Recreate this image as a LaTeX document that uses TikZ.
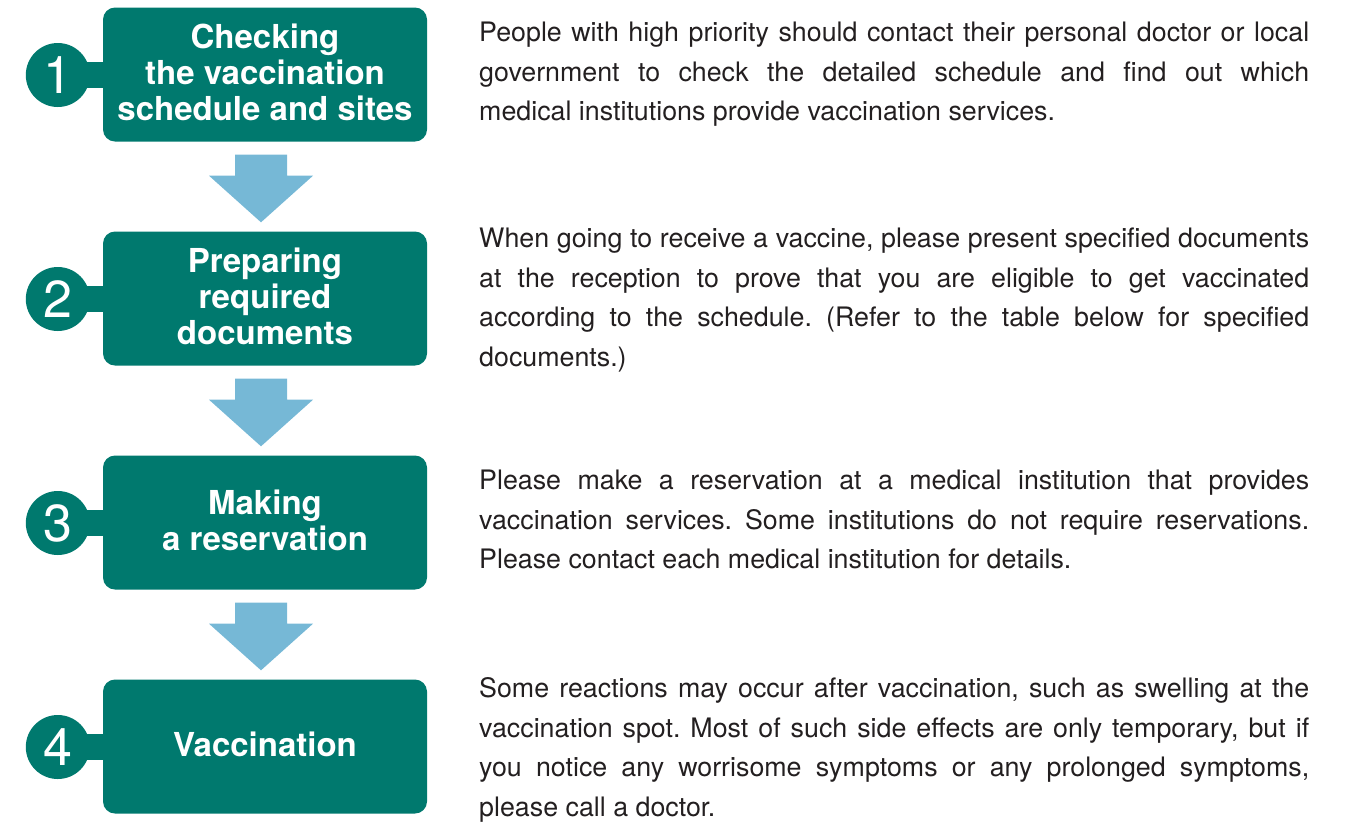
\documentclass[tikz,border=0pt]{standalone}
\usepackage{fontspec}
\setmainfont{TeX Gyre Heros}
\usetikzlibrary{calc}
\definecolor{stepgreen}{HTML}{00796E}
\definecolor{arrowblue}{HTML}{76B8D6}
\definecolor{bodytext}{HTML}{231F20}
\frenchspacing
\hyphenpenalty=10000
\exhyphenpenalty=10000
\begin{document}
\begin{tikzpicture}[x=1pt,y=-1pt,
  stepbox/.style={rectangle, rounded corners=12pt, fill=stepgreen, minimum width=324pt, minimum height=134pt, text=white, font=\bfseries\fontsize{33}{36}\selectfont, align=center, inner sep=0pt, text depth=4pt},
  numdot/.style={circle, fill=stepgreen, minimum size=64pt, inner sep=0pt, text=white, font=\fontsize{52}{52}\selectfont},
  desc/.style={anchor=base west, text width=830pt, align=justify, inner sep=0pt, text=bodytext, font=\fontsize{26.8}{39.5}\selectfont},
  blockarrow/.style={fill=arrowblue},
  linkbar/.style={fill=stepgreen}]
\useasboundingbox (0,0) rectangle (1348,823);

% boxes
\node[stepbox] (b1) at (265,74.5) {Checking\\the vaccination\\schedule and sites};
\node[stepbox] (b2) at (265,298.5) {Preparing\\required\\documents};
\node[stepbox] (b3) at (265,522.5) {Making\\a reservation};
\node[stepbox] (b4) at (265,746.5) {Vaccination};

% number circles with link bars
\foreach \i in {1,2,3,4}{
  \fill[linkbar] ($(b\i.west)+(-30,-13)$) rectangle ($(b\i.west)+(6,13)$);
  \node[numdot] (c\i) at ($(b\i.west)+(-45,0.5)$) {\i};
}

% block arrows
\foreach \a/\b in {1/2,2/3,3/4}{
  \fill[blockarrow] ($(b\a.south)+(-30,13)$) -- ($(b\a.south)+(22,13)$) -- ($(b\a.south)+(22,34)$) -- ($(b\a.south)+(48,34)$)
    -- ($(b\b.north)+(-4,-9)$) -- ($(b\a.south)+(-56,34)$) -- ($(b\a.south)+(-30,34)$) -- cycle;
}

% descriptions
\node[desc] (d1) at (479,41.5) {People with high priority should contact their personal doctor or local\linebreak government to check the detailed schedule and find out which\linebreak medical institutions provide vaccination services.};
\node[desc] (d2) at (479,247.5) {When going to receive a vaccine, please present specified documents\linebreak at the reception to prove that you are eligible to get vaccinated\linebreak according to the schedule. (Refer to the table below for specified\linebreak documents.)};
\node[desc] (d3) at (479,489.5) {Please make a reservation at a medical institution that provides\linebreak vaccination services. Some institutions do not require reservations.\linebreak Please contact each medical institution for details.};
\node[desc] (d4) at (479,697.5) {Some reactions may occur after vaccination, such as swelling at the\linebreak vaccination spot. Most of such side effects are only temporary, but if\linebreak you notice any worrisome symptoms or any prolonged symptoms,\linebreak please call a doctor.};
\end{tikzpicture}
\end{document}
